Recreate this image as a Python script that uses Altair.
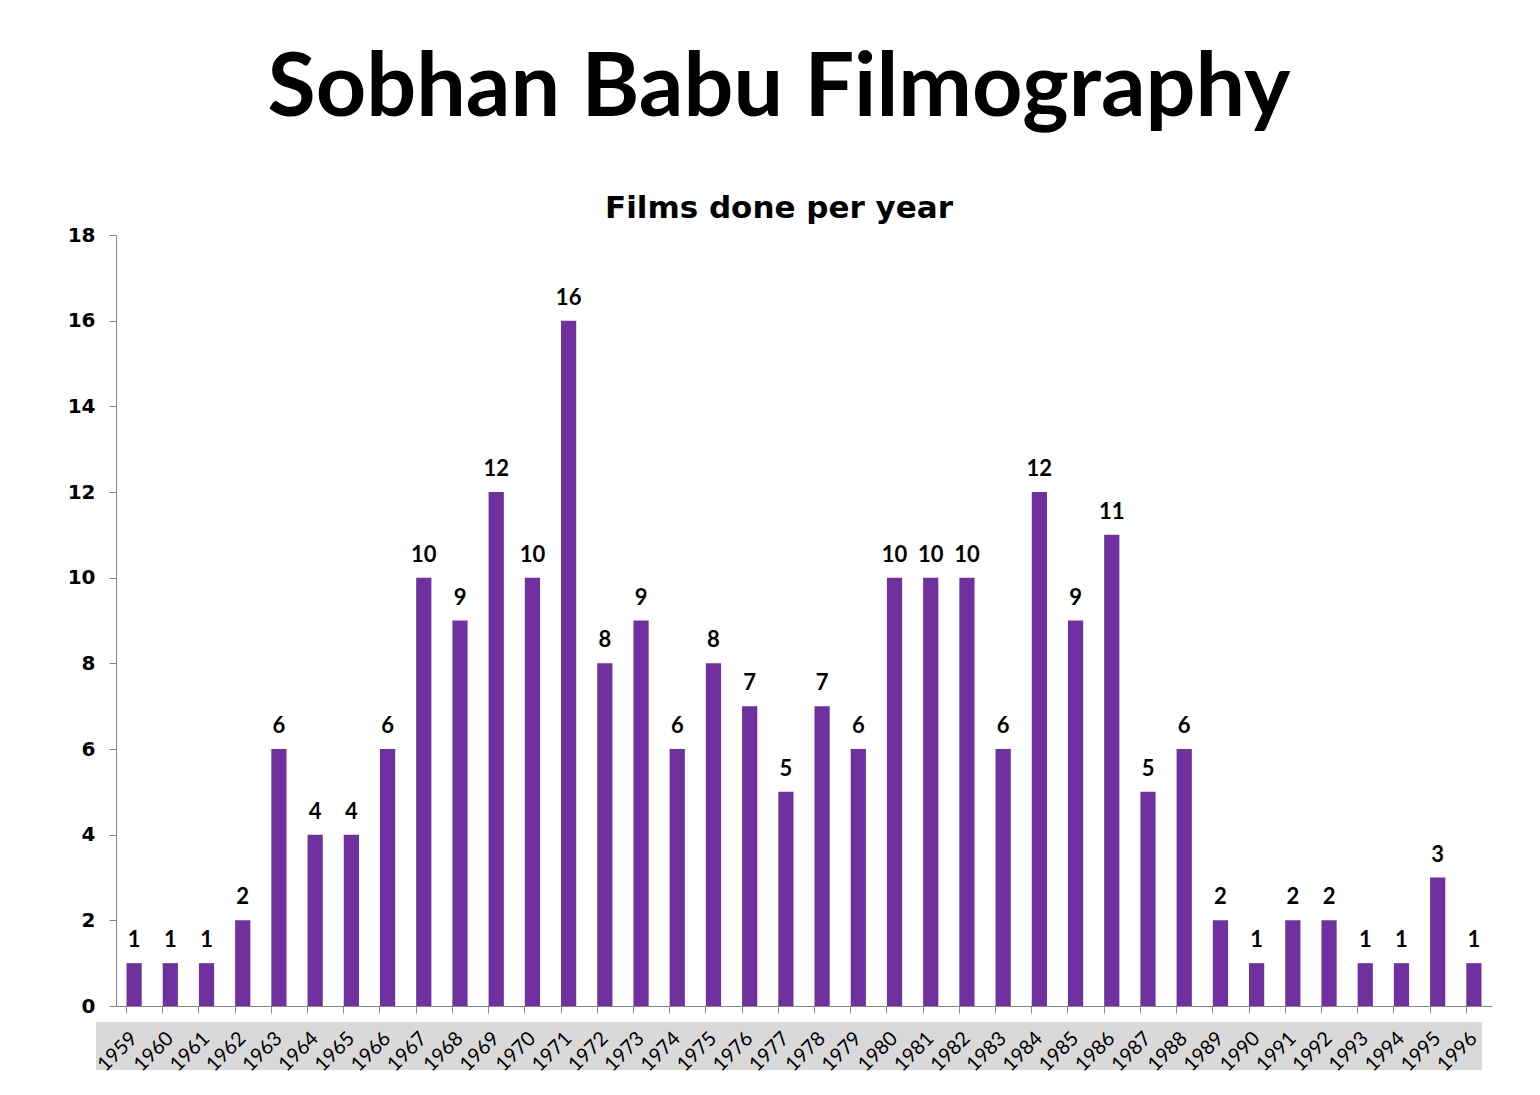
import altair as alt
import pandas as pd

years = [str(y) for y in range(1959, 1997)]
films = [1, 1, 1, 2, 6, 4, 4, 6, 10, 9, 12, 10, 16, 8, 9, 6, 8, 7, 5, 7, 6,
         10, 10, 10, 6, 12, 9, 11, 5, 6, 2, 1, 2, 2, 1, 1, 3, 1]

df = pd.DataFrame({"year": years, "films": films})

W, H = 1376, 771
PURPLE = "#7030A0"
GREY = "#868686"

x_enc = alt.X(
    "year:N",
    sort=years,
    scale=alt.Scale(paddingInner=0.58, paddingOuter=0.29),
    axis=alt.Axis(
        title=None,
        bandPosition=0,
        labelAngle=-45,
        labelAlign="right",
        labelBaseline="middle",
        labelPadding=22,
        labelFont="Lato",
        labelFontSize=20,
        labelColor="#000000",
        tickSize=7,
        tickColor=GREY,
        domainColor=GREY,
        zindex=1,
    ),
)
y_enc = alt.Y(
    "films:Q",
    scale=alt.Scale(domain=[0, 18], nice=False),
    axis=alt.Axis(
        title=None,
        values=list(range(0, 19, 2)),
        grid=False,
        labelFont="DejaVu Sans",
        labelFontWeight="bold",
        labelFontSize=20,
        labelColor="#000000",
        labelPadding=14,
        tickSize=7,
        tickColor=GREY,
        domainColor=GREY,
    ),
)

band = alt.Chart(df).mark_rect(color="#d9d9d9").encode(
    x=alt.value(-20), x2=alt.value(1366), y=alt.value(H + 16), y2=alt.value(H + 64)
)

bars = alt.Chart(df).mark_bar(color=PURPLE).encode(x=x_enc, y=y_enc)

labels = alt.Chart(df).mark_text(
    baseline="bottom", dy=-11, font="Lato", fontWeight="bold", fontSize=22, color="#000000"
).encode(x=alt.X("year:N", sort=years), y="films:Q", text="films:Q")

chart = alt.layer(band, bars, labels).properties(
    width=W,
    height=H,
    title=alt.TitleParams(
        text="Sobhan Babu Filmography",
        subtitle="Films done per year",
        anchor="middle",
        dx=-25,
        font="Lato",
        fontSize=88,
        fontWeight="bold",
        color="#000000",
        subtitleFont="DejaVu Sans",
        subtitleFontSize=31,
        subtitleFontWeight="bold",
        subtitleColor="#000000",
        subtitlePadding=60,
        offset=1,
    ),
    autosize=alt.AutoSizeParams(type="none"),
    padding={"left": 116, "top": 235, "right": 48, "bottom": 89},
).configure(background="white").configure_view(stroke=None)

chart.save("out.html", embed_options={"renderer": "svg", "actions": False})
